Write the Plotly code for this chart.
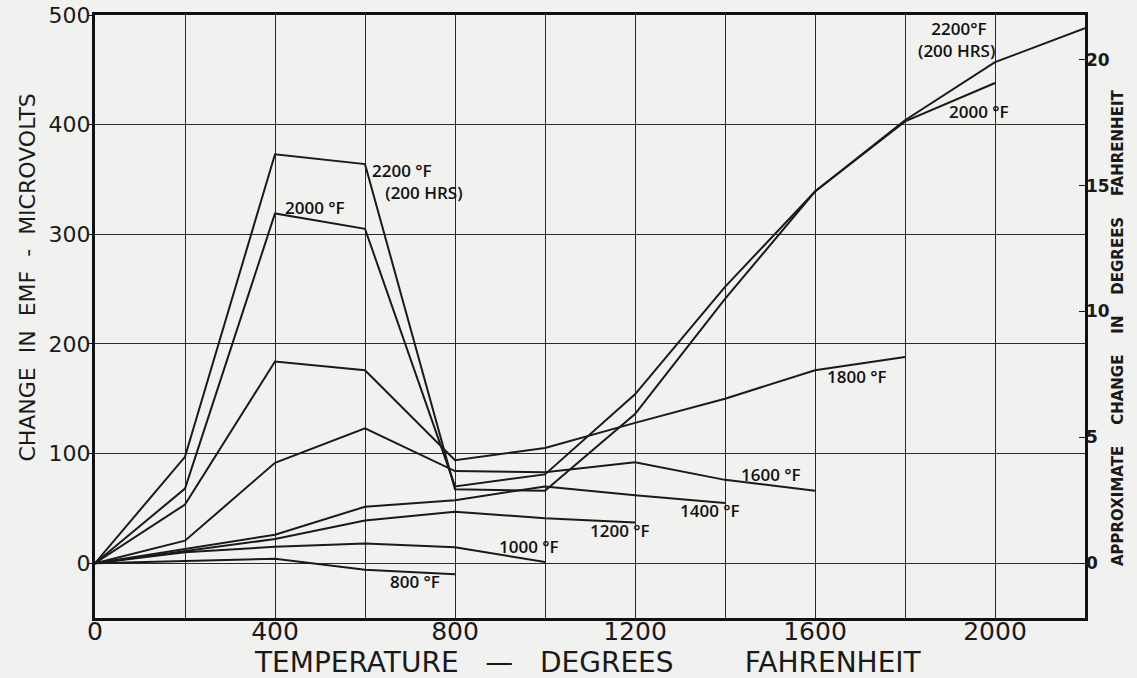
import plotly.graph_objects as go

# Temperature points (deg F) at which the EMF change was measured
temps = [0, 200, 400, 600, 800, 1000, 1200, 1400, 1600, 1800, 2000, 2200]

# Change in EMF (microvolts) after exposure at each temperature
emf_800 = [0, 2, 4, -6, -10]
emf_1000 = [0, 10, 15, 18, 14.5, 1]
emf_1200 = [0, 11, 22, 39, 47, 41, 37]
emf_1400 = [0, 13, 26, 51.5, 57.5, 70, 62, 55]
emf_1600 = [0, 20.5, 91.5, 123, 84, 83, 92, 76, 66]
emf_1800 = [0, 53.5, 184, 176, 94, 105, 128, 150, 176, 188]
emf_2000 = [0, 68, 319, 305, 70, 81, 154, 252, 339, 403, 438]
emf_2200 = [0, 97, 373, 364, 67.5, 66, 136, 241, 339, 404, 457, 488]

series = [emf_800, emf_1000, emf_1200, emf_1400, emf_1600, emf_1800, emf_2000, emf_2200]

# Curve labels and where they sit (temperature, microvolts)
label_text = ["800 °F", "1000 °F", "1200 °F", "1400 °F", "1600 °F", "1800 °F",
              "2000 °F", "2000 °F",
              "2200 °F<br>&nbsp;&nbsp;&nbsp;(200 HRS)",
              "&nbsp;&nbsp;&nbsp;2200°F<br>(200 HRS)"]
label_x = [651, 893, 1096, 1296, 1431, 1622, 418, 1893, 611, 1824]
label_y = [-16.5, 15.5, 29.5, 48.5, 80.5, 170, 324.5, 412, 348.5, 478]

x_ticks = list(range(0, 2201, 200))
x_ticktext = [str(v) if v % 400 == 0 and v <= 2000 else "" for v in x_ticks]
y_ticks = [0, 100, 200, 300, 400, 500]
deg_ticks = [0, 5, 10, 15, 20]
uv_per_deg = 22.96  # approximate microvolts per degree F

ink = "#1a1a1a"
paper = "#f1f1ef"
label_font = dict(family="Open Sans, DejaVu Sans", size=17, color="#111", weight=600)

fig = go.Figure()
for vals in series:
    fig.add_trace(go.Scatter(
        x=temps[:len(vals)], y=vals, mode="lines",
        line=dict(color=ink, width=2), showlegend=False, hoverinfo="skip"))

# invisible trace to activate the secondary (degrees) axis
fig.add_trace(go.Scatter(x=[0], y=[0], yaxis="y2", mode="markers",
                         marker=dict(opacity=0), showlegend=False, hoverinfo="skip"))

for t, x, y in zip(label_text, label_x, label_y):
    fig.add_annotation(x=x, y=y, text=t, showarrow=False, xanchor="left", yanchor="middle",
                       align="left", font=label_font)

# axis titles
fig.add_annotation(xref="paper", yref="paper", x=0.498, y=-0.073, showarrow=False,
                   xanchor="center", yanchor="middle",
                   text="TEMPERATURE   —   DEGREES        FAHRENHEIT",
                   font=dict(family="DejaVu Sans", size=28, color=ink))
fig.add_annotation(xref="paper", yref="paper", x=-0.068, y=0.564, showarrow=False,
                   xanchor="center", yanchor="middle", textangle=-90,
                   text="CHANGE  IN  EMF  -  MICROVOLTS",
                   font=dict(family="DejaVu Sans", size=22, color=ink))
fig.add_annotation(xref="paper", yref="paper", x=1.0335, y=0.481, showarrow=False,
                   xanchor="center", yanchor="middle", textangle=-90,
                   text="<b>APPROXIMATE    CHANGE    IN    DEGREES    FAHRENHEIT</b>",
                   font=dict(family="DejaVu Sans", size=15, color=ink))

fig.update_layout(
    width=1137, height=678,
    margin=dict(l=95, r=52, t=15, b=60),
    paper_bgcolor=paper, plot_bgcolor=paper,
    xaxis=dict(
        range=[0, 2200], tickvals=x_ticks, ticktext=x_ticktext, automargin=False,
        showgrid=True, gridcolor="#2a2a2a", gridwidth=1.3, zeroline=False,
        showline=True, linecolor="#111", linewidth=3, mirror=True,
        ticks="", ticklabelstandoff=-11,
        tickfont=dict(family="DejaVu Sans", size=25, color=ink),
    ),
    yaxis=dict(
        range=[-50, 500], tickvals=y_ticks, automargin=False,
        showgrid=True, gridcolor="#2a2a2a", gridwidth=1.3, zeroline=False,
        showline=True, linecolor="#111", linewidth=3, mirror=True,
        ticks="outside", ticklen=4, tickcolor="#111", ticklabelstandoff=-7,
        tickfont=dict(family="DejaVu Sans", size=22, color=ink),
    ),
    yaxis2=dict(
        overlaying="y", side="right", automargin=False,
        range=[-50 / uv_per_deg, 500 / uv_per_deg], tickvals=deg_ticks,
        showgrid=False, zeroline=False, showline=False,
        ticks="inside", ticklen=6, tickcolor="#111",
        tickfont=dict(family="DejaVu Sans", size=17, color=ink, weight="bold"),
    ),
)

fig.write_html("out.html")
